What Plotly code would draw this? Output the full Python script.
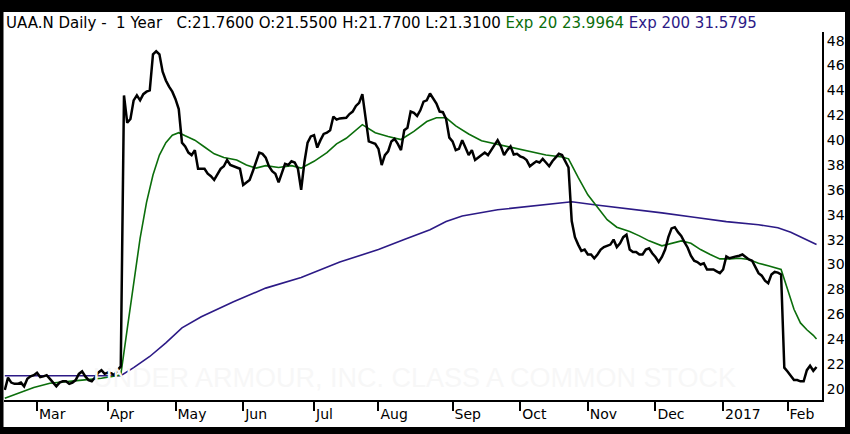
import plotly.graph_objects as go

# ---------------- data (trading-day index; 0 = 1 Mar 2016) ----------------
start_index = -10
close = [
    19.9, 20.9, 20.5, 20.4, 20.4, 20.5, 20.2, 20.8, 21.0, 21.1,
    21.3, 20.95, 21.0, 21.1, 20.8, 20.5, 20.2, 20.5, 20.6, 20.6,
    20.4, 20.5, 20.7, 21.2, 21.4, 21.0, 20.7, 20.6, 20.9, 21.3,
    21.5, 21.2, 21.3, 21.25, 21.1, 21.5, 21.8, 43.6, 41.4, 41.7,
    43.2, 43.6, 43.2, 43.7, 43.9, 44.0, 46.9, 47.15, 46.9, 45.5,
    44.8, 44.3, 43.9, 43.3, 42.5, 39.8, 39.5, 39.0, 38.8, 39.2,
    37.7, 37.7, 37.7, 37.3, 37.1, 36.8, 37.2, 37.7, 37.9, 38.4,
    38.0, 37.9, 37.8, 37.7, 36.4, 36.6, 36.8, 37.5, 38.2, 39.0,
    38.9, 38.6, 37.9, 37.5, 37.3, 36.6, 37.35, 38.1, 38.0, 38.3,
    38.2, 37.7, 36.0, 38.2, 39.8, 40.3, 40.4, 39.4, 40.0, 40.5,
    40.6, 40.8, 41.9, 41.65, 41.75, 41.8, 41.8, 42.1, 42.3, 42.75,
    43.0, 43.7, 41.8, 39.9, 39.8, 39.7, 39.3, 38.0, 38.8, 39.1,
    39.9, 40.1, 39.7, 39.2, 40.8, 41.0, 42.3, 42.2, 41.95, 42.4,
    43.1, 43.2, 43.75, 43.4, 42.95, 42.3, 42.25, 41.7, 40.2, 39.9,
    39.2, 39.3, 40.0, 39.4, 38.8, 39.2, 38.4, 38.6, 38.8, 39.0,
    38.8, 39.2, 39.6, 40.0, 39.5, 38.8, 39.2, 39.5, 38.85, 38.9,
    38.7, 38.6, 38.4, 37.9, 38.1, 38.3, 38.2, 38.5, 38.2, 37.9,
    38.3, 38.6, 38.9, 38.8, 38.3, 37.8, 33.5, 32.2, 31.6, 31.1,
    31.2, 30.8, 30.8, 30.5, 30.8, 31.2, 31.4, 31.5, 31.6, 32.0,
    31.4, 31.7, 32.2, 32.4, 31.2, 31.0, 31.0, 30.8, 30.8, 31.2,
    31.3, 30.9, 30.6, 30.2, 30.6, 31.2, 32.2, 32.9, 33.0, 32.6,
    32.3, 31.8, 31.35, 30.7, 30.3, 30.2, 30.0, 30.1, 29.6, 29.6,
    29.6, 29.45, 29.3, 29.6, 30.65, 30.5, 30.6, 30.65, 30.7, 30.8,
    30.6, 30.4, 30.3, 29.8, 29.3, 29.1, 28.7, 28.5, 29.2, 29.4,
    29.35, 29.2, 21.7, 21.4, 21.0, 20.7, 20.7, 20.6, 20.6, 21.5,
    21.85, 21.45, 21.76,
]
day_index = list(range(start_index, start_index + len(close)))

ema20_idx = [-10, -6, -1, 4, 9, 14, 20, 26, 28, 30, 32, 34, 36, 38, 40, 42, 44, 46,
             49, 52, 55, 58, 62, 65, 68, 71, 75, 79, 82, 86, 90, 93, 96, 101, 105,
             109, 113, 117, 121, 124, 127, 130, 134, 138, 143, 148, 153, 158, 163,
             165, 168, 171, 174, 177, 180, 184, 187, 190, 194, 197, 200, 203, 206,
             209, 212, 215, 218, 221, 224, 227, 230, 231, 233, 235, 237, 239, 241, 242]
ema20 = [19.25, 19.65, 20.1, 20.45, 20.6, 20.7, 20.85, 21.1, 24.8, 28.3, 32.1, 35.0,
         37.2, 38.8, 39.8, 40.4, 40.6, 40.35, 40.0, 39.45, 38.9, 38.6, 38.4, 38.0,
         37.75, 37.95, 37.8, 37.95, 37.75, 38.3, 39.0, 39.7, 40.15, 41.25, 40.6,
         40.3, 40.05, 40.7, 41.5, 41.8, 41.8, 41.15, 40.5, 39.95, 39.65, 39.4, 39.1,
         38.8, 38.65, 38.5, 37.0, 35.6, 34.6, 33.6, 33.0, 32.65, 32.3, 31.9, 31.5,
         31.7, 31.9, 31.7, 31.2, 30.8, 30.45, 30.45, 30.5, 30.4, 30.1, 29.9, 29.7,
         29.6, 28.0, 26.4, 25.3, 24.75, 24.3, 24.0]

ema200_idx = [-10, 26, 30, 35, 40, 45, 51, 61, 71, 82, 94, 106, 114, 122, 127, 132,
              143, 153, 163, 166, 173, 183, 194, 204, 214, 224, 230, 234, 242]
ema200 = [21.05, 21.05, 21.7, 22.6, 23.7, 24.9, 25.8, 27.0, 28.1, 28.95, 30.2, 31.2,
          32.0, 32.8, 33.45, 33.9, 34.4, 34.7, 35.0, 35.05, 34.8, 34.5, 34.15, 33.8,
          33.45, 33.2, 32.95, 32.6, 31.6]

month_tick_idx = [0, 22, 43, 64, 86, 106, 129, 150, 171, 192, 213, 233]
month_labels = ["Mar", "Apr", "May", "Jun", "Jul", "Aug", "Sep", "Oct", "Nov",
                "Dec", "2017", "Feb"]
price_ticks = list(range(20, 50, 2))

title_main = "UAA.N Daily -  1 Year   C:21.7600 O:21.5500 H:21.7700 L:21.3100"
title_ema20 = "Exp 20 23.9964"
title_ema200 = "Exp 200 31.5795"
watermark = "UNDER ARMOUR, INC. CLASS A COMMON STOCK"

# ---------------- figure ----------------
GREEN = "#0b6e0b"
PURPLE = "#2c1a86"
FONT = "DejaVu Sans"

fig = go.Figure()
fig.add_trace(go.Scatter(x=ema200_idx, y=ema200, mode="lines",
                         line=dict(color=PURPLE, width=1.6), hoverinfo="skip"))
fig.add_trace(go.Scatter(x=ema20_idx, y=ema20, mode="lines",
                         line=dict(color=GREEN, width=1.6), hoverinfo="skip"))
fig.add_trace(go.Scatter(x=day_index, y=close, mode="lines",
                         line=dict(color="black", width=2.5), hoverinfo="skip"))

L, R, T, B = 4, 28, 32, 34
W, H = 850, 434
pw, ph = W - L - R, H - T - B


def px(X):
    return (X - L) / pw


def py(Y):
    return (H - B - Y) / ph


fig.update_layout(
    width=W, height=H,
    margin=dict(l=L, r=R, t=T, b=B, pad=0),
    paper_bgcolor="white", plot_bgcolor="white",
    showlegend=False,
    font=dict(family=FONT, size=14, color="black"),
    xaxis=dict(
        range=[-10.25, 243.7],
        tickvals=month_tick_idx, ticktext=month_labels,
        ticks="outside", ticklen=9, tickwidth=2, tickcolor="black",
        ticklabelposition="outside right",
        showline=True, linecolor="black", linewidth=2,
        showgrid=False, zeroline=False,
        tickfont=dict(family=FONT, size=14, color="black"),
    ),
    yaxis=dict(
        range=[19.1, 48.7], side="right",
        tickvals=price_ticks, ticks="",
        showline=True, linecolor="black", linewidth=2,
        showgrid=False, zeroline=False,
        tickfont=dict(family=FONT, size=14, color="black"),
    ),
)

# watermark
fig.add_annotation(
    xref="paper", yref="paper", x=px(415), y=py(378),
    text=watermark, showarrow=False, xanchor="center", yanchor="middle",
    font=dict(family="Liberation Sans", size=27, color="#f7f7f7"),
)

# header text
fig.add_annotation(
    xref="paper", yref="paper", x=px(4), y=py(23),
    xanchor="left", yanchor="middle", showarrow=False,
    text=(title_main + " <span style='color:%s'>%s</span> "
          "<span style='color:%s'>%s</span>") % (GREEN, title_ema20, PURPLE, title_ema200),
    font=dict(family=FONT, size=15, color="black"),
)

# black outer frame
black = dict(type="rect", xref="paper", yref="paper", fillcolor="black",
             line=dict(width=0), layer="above")
fig.add_shape(**black, x0=-0.1, x1=1.2, y0=py(12), y1=1.3)
fig.add_shape(**black, x0=-0.1, x1=px(3.5), y0=-0.3, y1=1.3)
fig.add_shape(**black, x0=px(845), x1=1.2, y0=-0.3, y1=1.3)
fig.add_shape(**black, x0=-0.1, x1=1.2, y0=-0.3, y1=py(427))

fig.write_html("out.html",
               config={"displayModeBar": False},
               post_script="document.body.style.margin='0';document.body.style.padding='0';")
